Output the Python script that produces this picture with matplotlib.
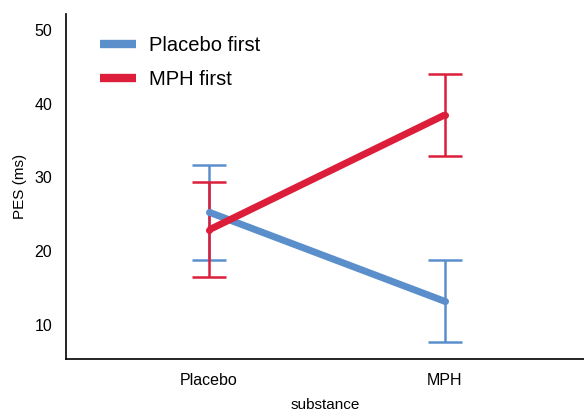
import matplotlib.pyplot as plt
import numpy as np

plt.rcParams['font.family'] = ['Liberation Sans', 'DejaVu Sans']

# data
substances = ['Placebo', 'MPH']
placebo_first = [25.3, 13.2]
placebo_first_lo = [18.8, 7.7]
placebo_first_hi = [31.7, 18.8]
mph_first = [22.9, 38.5]
mph_first_lo = [16.5, 32.9]
mph_first_hi = [29.4, 44.0]

blue = '#5b8fcc'
red = '#dc1e3a'

fig = plt.figure(figsize=(5.84, 4.11), dpi=100)
ax = fig.add_axes([0.113, 0.1265, 0.887, 0.8395])

x = np.arange(len(substances))

def draw(vals, lo, hi, color, label):
    vals = np.array(vals)
    yerr = [vals - np.array(lo), np.array(hi) - vals]
    ax.errorbar(x, vals, yerr=yerr, fmt='none', ecolor=color, elinewidth=1.8,
                capsize=12.5, capthick=1.8, zorder=2)
    ax.plot(x, vals, color=color, lw=5, marker='o', ms=4, label=label,
            solid_capstyle='butt', zorder=3)

draw(placebo_first, placebo_first_lo, placebo_first_hi, blue, 'Placebo first')
draw(mph_first, mph_first_lo, mph_first_hi, red, 'MPH first')

ax.set_xlim(-0.606, 1.589)
ax.set_ylim(5.39, 52.17)
ax.set_xticks(x)
ax.set_xticklabels(substances)
ax.set_yticks([10, 20, 30, 40, 50])
ax.tick_params(length=0, labelsize=11.5, pad=10)
ax.spines['top'].set_visible(False)
ax.spines['right'].set_visible(False)
ax.spines['left'].set_linewidth(1.2)
ax.spines['bottom'].set_linewidth(1.2)
ax.set_xlabel('substance', fontsize=11, labelpad=7)
ax.set_ylabel('PES (ms)', fontsize=11, labelpad=5)

leg = ax.legend(loc='upper left', frameon=False, fontsize=14.5, handlelength=1.8,
                handletextpad=0.65, labelspacing=0.75, bbox_to_anchor=(0.03, 0.99))
for h in leg.get_lines():
    h.set_marker('')
    h.set_linewidth(6)

fig.savefig('out.png', dpi=100)
